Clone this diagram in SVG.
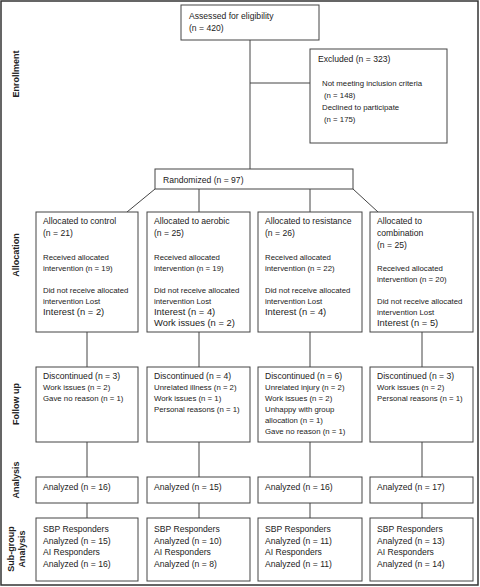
<svg xmlns="http://www.w3.org/2000/svg" width="480" height="587" viewBox="0 0 480 587">
<style>
text{font-family:"Liberation Sans",Arial,sans-serif;fill:#222}
.h{font-size:8.6px}
.s{font-size:7.8px}
.b{font-size:9.4px}
.lab{font-size:9px;font-weight:bold}
rect.n{fill:#fff;stroke:#444;stroke-width:1}
.c line{stroke:#444;stroke-width:1}
</style>
<rect x="1" y="1" width="477" height="584" fill="#fff" stroke="#333" stroke-width="1.5"/>
<g id="labels">
<text class="lab" text-anchor="middle" transform="translate(19,74) rotate(-90)">Enrollment</text>
<text class="lab" text-anchor="middle" transform="translate(19,255) rotate(-90)">Allocation</text>
<text class="lab" text-anchor="middle" transform="translate(19,404) rotate(-90)">Follow up</text>
<text class="lab" text-anchor="middle" transform="translate(19,480) rotate(-90)">Analysis</text>
<text class="lab" text-anchor="middle" transform="translate(14,549) rotate(-90)">Sub-group</text>
<text class="lab" text-anchor="middle" transform="translate(25,549) rotate(-90)">Analysis</text>
</g>
<g class="c" id="connectors">
<line x1="250" y1="40" x2="250" y2="169"/>
<line x1="250" y1="83" x2="310" y2="83"/>
<line x1="155" y1="189" x2="127" y2="212"/>
<line x1="199" y1="189" x2="199" y2="212"/>
<line x1="310" y1="189" x2="310" y2="212"/>
<line x1="353" y1="189" x2="378" y2="212"/>
<line x1="87" y1="332" x2="87" y2="367"/>
<line x1="199" y1="332" x2="199" y2="367"/>
<line x1="310" y1="332" x2="310" y2="367"/>
<line x1="422" y1="332" x2="422" y2="367"/>
<line x1="87" y1="442" x2="87" y2="477"/>
<line x1="199" y1="442" x2="199" y2="477"/>
<line x1="310" y1="442" x2="310" y2="477"/>
<line x1="422" y1="442" x2="422" y2="477"/>
<line x1="87" y1="503" x2="87" y2="518"/>
<line x1="199" y1="503" x2="199" y2="518"/>
<line x1="310" y1="503" x2="310" y2="518"/>
<line x1="422" y1="503" x2="422" y2="518"/>
</g>
<g id="assessed">
<rect class="n" x="181" y="5" width="138" height="35"/>
<text class="h" x="189" y="19">Assessed for eligibility</text>
<text class="h" x="189" y="31">(n = 420)</text>
</g>
<g id="excluded">
<rect class="n" x="310" y="49" width="137" height="94"/>
<text class="h" x="318" y="62">Excluded (n = 323)</text>
<text class="s" x="322" y="86">Not meeting inclusion criteria</text>
<text class="s" x="324" y="98">(n = 148)</text>
<text class="s" x="322" y="110">Declined to participate</text>
<text class="s" x="324" y="122">(n = 175)</text>
</g>
<g id="randomized">
<rect class="n" x="155" y="169" width="198" height="20"/>
<text class="h" x="163" y="183">Randomized (n = 97)</text>
</g>
<g id="alloc-control">
<rect class="n" x="36" y="212" width="102" height="120"/>
<text class="h" x="43" y="224">Allocated to control</text>
<text class="h" x="43" y="236">(n = 21)</text>
<text class="s" x="43" y="260">Received allocated</text>
<text class="s" x="43" y="271">intervention (n = 19)</text>
<text class="s" x="43" y="293">Did not receive allocated</text>
<text class="s" x="43" y="304">intervention Lost</text>
<text class="b" x="43" y="315">Interest (n = 2)</text>
</g>
<g id="alloc-aerobic">
<rect class="n" x="147" y="212" width="103" height="120"/>
<text class="h" x="154" y="224">Allocated to aerobic</text>
<text class="h" x="154" y="236">(n = 25)</text>
<text class="s" x="154" y="260">Received allocated</text>
<text class="s" x="154" y="271">intervention (n = 19)</text>
<text class="s" x="154" y="293">Did not receive allocated</text>
<text class="s" x="154" y="304">intervention Lost</text>
<text class="b" x="154" y="315">Interest (n = 4)</text>
<text class="b" x="154" y="326">Work issues (n = 2)</text>
</g>
<g id="alloc-resistance">
<rect class="n" x="258" y="212" width="104" height="120"/>
<text class="h" x="265" y="224">Allocated to resistance</text>
<text class="h" x="265" y="236">(n = 26)</text>
<text class="s" x="265" y="260">Received allocated</text>
<text class="s" x="265" y="271">intervention (n = 22)</text>
<text class="s" x="265" y="293">Did not receive allocated</text>
<text class="s" x="265" y="304">intervention Lost</text>
<text class="b" x="265" y="315">Interest (n = 4)</text>
</g>
<g id="alloc-combination">
<rect class="n" x="370" y="212" width="103" height="120"/>
<text class="h" x="377" y="224">Allocated to</text>
<text class="h" x="377" y="236">combination</text>
<text class="h" x="377" y="248">(n = 25)</text>
<text class="s" x="377" y="271">Received allocated</text>
<text class="s" x="377" y="282">intervention (n = 20)</text>
<text class="s" x="377" y="304">Did not receive allocated</text>
<text class="s" x="377" y="315">intervention Lost</text>
<text class="b" x="377" y="326">Interest (n = 5)</text>
</g>
<g id="follow-control">
<rect class="n" x="36" y="367" width="102" height="75"/>
<text class="h" x="43" y="379">Discontinued (n = 3)</text>
<text class="s" x="43" y="390">Work issues (n = 2)</text>
<text class="s" x="43" y="401">Gave no reason (n = 1)</text>
</g>
<g id="follow-aerobic">
<rect class="n" x="147" y="367" width="103" height="75"/>
<text class="h" x="154" y="379">Discontinued (n = 4)</text>
<text class="s" x="154" y="390">Unrelated illness (n = 2)</text>
<text class="s" x="154" y="401">Work issues (n = 1)</text>
<text class="s" x="154" y="412">Personal reasons (n = 1)</text>
</g>
<g id="follow-resistance">
<rect class="n" x="258" y="367" width="104" height="75"/>
<text class="h" x="265" y="379">Discontinued (n = 6)</text>
<text class="s" x="265" y="390">Unrelated injury (n = 2)</text>
<text class="s" x="265" y="401">Work issues (n = 2)</text>
<text class="s" x="265" y="412">Unhappy with group</text>
<text class="s" x="265" y="423">allocation (n = 1)</text>
<text class="s" x="265" y="434">Gave no reason (n = 1)</text>
</g>
<g id="follow-combination">
<rect class="n" x="370" y="367" width="103" height="75"/>
<text class="h" x="377" y="379">Discontinued (n = 3)</text>
<text class="s" x="377" y="390">Work issues (n = 2)</text>
<text class="s" x="377" y="401">Personal reasons (n = 1)</text>
</g>
<g id="analysis-control">
<rect class="n" x="36" y="477" width="102" height="26"/>
<text class="h" x="43" y="490">Analyzed (n = 16)</text>
</g>
<g id="analysis-aerobic">
<rect class="n" x="147" y="477" width="103" height="26"/>
<text class="h" x="154" y="490">Analyzed (n = 15)</text>
</g>
<g id="analysis-resistance">
<rect class="n" x="258" y="477" width="104" height="26"/>
<text class="h" x="265" y="490">Analyzed (n = 16)</text>
</g>
<g id="analysis-combination">
<rect class="n" x="370" y="477" width="103" height="26"/>
<text class="h" x="377" y="490">Analyzed (n = 17)</text>
</g>
<g id="sub-control">
<rect class="n" x="36" y="518" width="102" height="63"/>
<text class="h" x="43" y="532">SBP Responders</text>
<text class="h" x="43" y="544">Analyzed (n = 15)</text>
<text class="h" x="43" y="555">AI Responders</text>
<text class="h" x="43" y="567">Analyzed (n = 16)</text>
</g>
<g id="sub-aerobic">
<rect class="n" x="147" y="518" width="103" height="63"/>
<text class="h" x="154" y="532">SBP Responders</text>
<text class="h" x="154" y="544">Analyzed (n = 10)</text>
<text class="h" x="154" y="555">AI Responders</text>
<text class="h" x="154" y="567">Analyzed (n = 8)</text>
</g>
<g id="sub-resistance">
<rect class="n" x="258" y="518" width="104" height="63"/>
<text class="h" x="265" y="532">SBP Responders</text>
<text class="h" x="265" y="544">Analyzed (n = 11)</text>
<text class="h" x="265" y="555">AI Responders</text>
<text class="h" x="265" y="567">Analyzed (n = 11)</text>
</g>
<g id="sub-combination">
<rect class="n" x="370" y="518" width="103" height="63"/>
<text class="h" x="377" y="532">SBP Responders</text>
<text class="h" x="377" y="544">Analyzed (n = 13)</text>
<text class="h" x="377" y="555">AI Responders</text>
<text class="h" x="377" y="567">Analyzed (n = 14)</text>
</g>
</svg>
